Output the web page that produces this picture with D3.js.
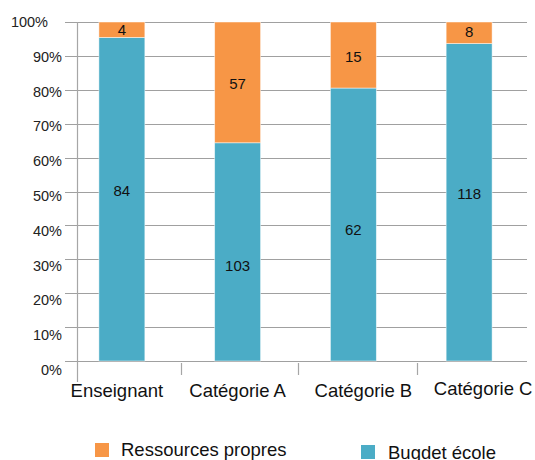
<!DOCTYPE html>
<html>
<head>
<meta charset="utf-8">
<script src="https://cdn.jsdelivr.net/npm/d3@7"></script>
<style>
  html, body { margin: 0; padding: 0; background: #fff; }
  svg { display: block; font-family: "Liberation Sans", Arial, sans-serif; }
</style>
</head>
<body>
<svg id="chart" width="535" height="460"></svg>
<script>
// Categories and the two stacked series (counts)
const categories = ["Enseignant", "Catégorie A", "Catégorie B", "Catégorie C"];
const budgetEcole = [84, 103, 62, 118];
const ressourcesPropres = [4, 57, 15, 8];
const yTickLabels = ["0%", "10%", "20%", "30%", "40%", "50%", "60%", "70%", "80%", "90%", "100%"];
const seriesNames = ["Budget école", "Ressources propres"];
const legendLabels = ["Ressources propres", "Bugdet école"];

const colors = { "Budget école": "#4BACC6", "Ressources propres": "#F79646" };

const rows = categories.map((c, i) => ({
  category: c,
  "Budget école": budgetEcole[i],
  "Ressources propres": ressourcesPropres[i]
}));

const svg = d3.select("#chart");

const x = d3.scaleBand().domain(categories).range([64, 527]).padding(0);
const y = d3.scaleLinear().domain([0, 1]).range([361, 22]);
// tick labels sit on a slightly taller ladder than the gridlines
const yLab = d3.scaleLinear().domain([0, 1]).range([370, 22]);

const stack = d3.stack().keys(seriesNames).offset(d3.stackOffsetExpand);
const layers = stack(rows);

// Horizontal gridlines with small outer ticks on the left
const gridG = svg.append("g");
yTickLabels.forEach((lab, i) => {
  const v = i / 10;
  gridG.append("line")
    .attr("x1", 65).attr("x2", 527)
    .attr("y1", Math.round(y(v)) + 0.5).attr("y2", Math.round(y(v)) + 0.5)
    .attr("stroke", "#a0a0a0").attr("stroke-width", 1);
  gridG.append("text")
    .attr("x", i === 10 ? 48 : 62)
    .attr("y", yLab(v))
    .attr("dy", "0.35em")
    .attr("text-anchor", "end")
    .attr("font-size", 14.5)
    .attr("fill", "#222")
    .text(lab);
});

// Vertical axis line
svg.append("line")
  .attr("x1", 77.5).attr("x2", 77.5)
  .attr("y1", 22).attr("y2", 382)
  .attr("stroke", "#a6a6a6").attr("stroke-width", 1.2);

// Category separators
const sepX = [181, 298, 417];
sepX.forEach(sx => {
  svg.append("line")
    .attr("x1", sx + 0.5).attr("x2", sx + 0.5)
    .attr("y1", 363).attr("y2", 375)
    .attr("stroke", "#a6a6a6").attr("stroke-width", 1.2);
});

// Stacked bars
const barW = x.bandwidth() * 0.397;
const labelNudge = { "Budget école": [-8, 14, 5.5, -9], "Ressources propres": [0, 1, 2, -1] };
const barsG = svg.append("g");
layers.forEach(layer => {
  const g = barsG.append("g").attr("fill", colors[layer.key]);
  g.selectAll("rect")
    .data(layer)
    .join("rect")
    .attr("x", d => x(d.data.category) + x.bandwidth() / 2 - barW / 2)
    .attr("y", d => y(d[1]))
    .attr("width", barW)
    .attr("height", d => y(d[0]) - y(d[1]))
    .attr("stroke", "#ffffff")
    .attr("stroke-opacity", 0.6)
    .attr("stroke-width", 0.8);
  g.selectAll("text")
    .data(layer)
    .join("text")
    .attr("x", d => x(d.data.category) + x.bandwidth() / 2)
    .attr("y", (d, i) => (y(d[0]) + y(d[1])) / 2 + labelNudge[layer.key][i])
    .attr("dy", "0.35em")
    .attr("text-anchor", "middle")
    .attr("font-size", 15)
    .attr("fill", "#111")
    .text(d => d.data[layer.key]);
});

// Category labels below the axis
const labelShift = [-5, 0, 10, 14];
const labelBase = [397, 397, 397, 395];
categories.forEach((c, i) => {
  svg.append("text")
    .attr("x", x(c) + x.bandwidth() / 2 + labelShift[i])
    .attr("y", labelBase[i])
    .attr("text-anchor", "middle")
    .attr("font-size", 18.5)
    .attr("fill", "#111")
    .text(c);
});

// Legend
const legendItems = [
  { label: legendLabels[0], color: colors["Ressources propres"], sx: 95, sy: 443, tx: 121, ty: 456 },
  { label: legendLabels[1], color: colors["Budget école"], sx: 361, sy: 445, tx: 388, ty: 459 }
];
legendItems.forEach(it => {
  svg.append("rect")
    .attr("x", it.sx).attr("y", it.sy)
    .attr("width", 14).attr("height", 14)
    .attr("fill", it.color);
  svg.append("text")
    .attr("x", it.tx).attr("y", it.ty)
    .attr("font-size", 18.5)
    .attr("fill", "#111")
    .text(it.label);
});
</script>
</body>
</html>
